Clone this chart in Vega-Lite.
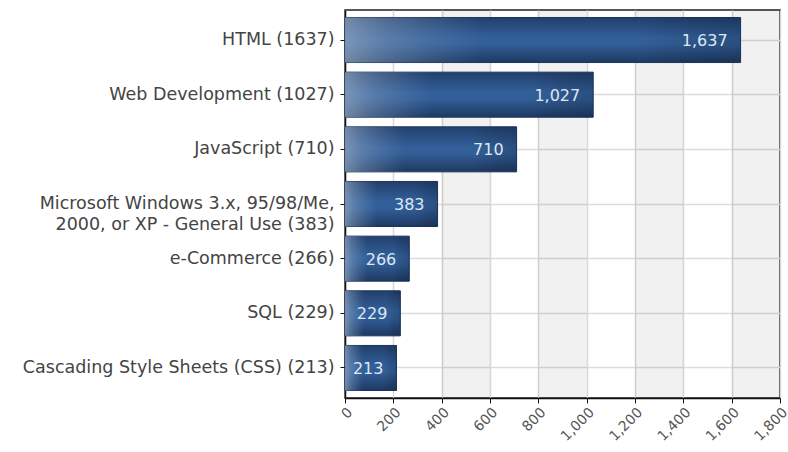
{
  "$schema": "https://vega.github.io/schema/vega-lite/v6.json",
  "width": 435,
  "height": 388,
  "autosize": "none",
  "padding": {"left": 345, "top": 10, "right": 8, "bottom": 54},
  "background": "white",
  "config": {
    "view": {"stroke": "#222", "strokeWidth": 1.5},
    "font": "DejaVu Sans"
  },
  "datasets": {
    "topics": [
      {"label": "HTML (1637)", "value": 1637},
      {"label": "Web Development (1027)", "value": 1027},
      {"label": "JavaScript (710)", "value": 710},
      {"label": "Microsoft Windows 3.x, 95/98/Me,|2000, or XP - General Use (383)", "value": 383},
      {"label": "e-Commerce (266)", "value": 266},
      {"label": "SQL (229)", "value": 229},
      {"label": "Cascading Style Sheets (CSS) (213)", "value": 213}
    ],
    "bands": [
      {"start": 400, "end": 600},
      {"start": 800, "end": 1000},
      {"start": 1200, "end": 1400},
      {"start": 1600, "end": 1800}
    ]
  },
  "encoding": {
    "y": {
      "field": "label",
      "type": "nominal",
      "sort": null,
      "scale": {"paddingInner": 0.176, "paddingOuter": 0.137},
      "axis": {
        "title": null,
        "labelExpr": "split(datum.label, '|')",
        "labelFontSize": 17.5,
        "labelColor": "#444",
        "labelLineHeight": 21,
        "labelPadding": 6,
        "labelLimit": 345,
        "tickColor": "#111",
        "tickSize": 5,
        "domainColor": "#111",
        "domainWidth": 1.5,
        "grid": true,
        "gridColor": "#dcdcdc",
        "gridWidth": 1.5
      }
    },
    "x": {
      "field": "value",
      "type": "quantitative",
      "scale": {"domain": [0, 1800], "nice": false},
      "axis": {
        "title": null,
        "tickCount": 9,
        "labelExpr": "format(datum.value, ',')",
        "labelAngle": -45,
        "labelFontSize": 14,
        "labelColor": "#555",
        "labelOverlap": false,
        "tickColor": "#111",
        "tickSize": 5,
        "domainColor": "#111",
        "domainWidth": 1.5,
        "grid": true,
        "gridColor": "#d8d8d8",
        "gridWidth": 1.5
      }
    }
  },
  "layer": [
    {
      "data": {"name": "bands"},
      "mark": {"type": "rect", "fill": "#000", "fillOpacity": 0.055},
      "encoding": {
        "y": null,
        "x": {"field": "start", "type": "quantitative"},
        "x2": {"field": "end"}
      }
    },
    {
      "data": {"name": "topics"},
      "mark": {
        "type": "bar",
        "stroke": "#1c355a",
        "strokeWidth": 1,
        "color": {
          "gradient": "linear",
          "x1": 0, "y1": 0, "x2": 0, "y2": 1,
          "stops": [
            {"offset": 0, "color": "#223f6c"},
            {"offset": 0.45, "color": "#33609a"},
            {"offset": 0.6, "color": "#325e97"},
            {"offset": 1, "color": "#1e3962"}
          ]
        }
      }
    },
    {
      "data": {"name": "topics"},
      "mark": {
        "type": "bar",
        "color": {
          "gradient": "linear",
          "x1": 0, "y1": 0, "x2": 1, "y2": 0,
          "stops": [
            {"offset": 0, "color": "rgba(170,186,205,0.6)"},
            {"offset": 0.1, "color": "rgba(150,172,198,0.4)"},
            {"offset": 0.35, "color": "rgba(120,150,190,0)"},
            {"offset": 0.75, "color": "rgba(0,0,0,0)"},
            {"offset": 1, "color": "rgba(10,25,50,0.22)"}
          ]
        }
      }
    },
    {
      "data": {"name": "topics"},
      "mark": {
        "type": "text",
        "align": "right",
        "baseline": "middle",
        "dx": -13,
        "dy": 1,
        "fontSize": 16,
        "color": "#dfe7f1"
      },
      "encoding": {
        "text": {"field": "value", "type": "quantitative", "format": ","}
      }
    }
  ]
}
